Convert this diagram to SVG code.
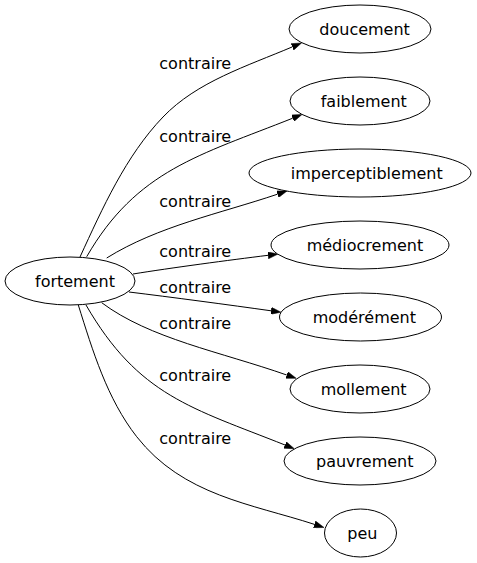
<svg xmlns="http://www.w3.org/2000/svg" width="477" height="563" viewBox="0 0 477 563">
<defs>
<style>
.node ellipse{fill:#fff;stroke:#000;stroke-width:1}
.node text{font-family:"DejaVu Sans",sans-serif;font-size:16px;fill:#000}
.edge path{fill:none;stroke:#000;stroke-width:1}
.lbl{font-family:"DejaVu Sans",sans-serif;font-size:16px;fill:#000}
</style>
<marker id="arr" viewBox="0 0 10 7" refX="0" refY="3.5" markerWidth="10" markerHeight="7" markerUnits="userSpaceOnUse" orient="auto">
<path d="M0,0 L10,3.5 L0,7 z" fill="#000" stroke="#000" stroke-width="0.5"/>
</marker>
</defs>
<rect width="477" height="563" fill="#fff"/>
<g id="edges">
<g class="edge"><path marker-end="url(#arr)" d="M80,257 C102.6,208 125.7,155.9 163,117 C196.8,81.7 247.3,66 292.3,46.9"/></g>
<g class="edge"><path marker-end="url(#arr)" d="M86.7,256.7 C136.7,170.1 199.7,155.2 292.7,118.2"/></g>
<g class="edge"><path marker-end="url(#arr)" d="M106.7,258 C157.7,226.2 220.5,213.4 277.5,194.2"/></g>
<g class="edge"><path marker-end="url(#arr)" d="M133,274 C170,268 230,260 268.1,255.3"/></g>
<g class="edge"><path marker-end="url(#arr)" d="M129,292 C170,297 230,305 271.1,310.8"/></g>
<g class="edge"><path marker-end="url(#arr)" d="M101.7,302.7 C149.7,338.7 220.9,351.9 286.7,375"/></g>
<g class="edge"><path marker-end="url(#arr)" d="M86,305 C138.5,395.9 192,408 285,445"/></g>
<g class="edge"><path marker-end="url(#arr)" d="M78.3,305 C92.7,350.8 107.1,398.9 136.7,436.7 C183,495.7 251.8,503.9 314.5,524.4"/></g>
<text class="lbl" x="159.3" y="69">contraire</text>
<text class="lbl" x="159.3" y="142">contraire</text>
<text class="lbl" x="159.3" y="207">contraire</text>
<text class="lbl" x="159.3" y="257">contraire</text>
<text class="lbl" x="159.3" y="293">contraire</text>
<text class="lbl" x="159.3" y="329">contraire</text>
<text class="lbl" x="159.3" y="381">contraire</text>
<text class="lbl" x="159.3" y="444">contraire</text>
</g>
<g id="fortement" class="node"><ellipse cx="70" cy="281" rx="65" ry="24"/><text x="35" y="286.5">fortement</text></g>
<g id="doucement" class="node"><ellipse cx="360" cy="29" rx="71" ry="24"/><text x="319.3" y="34.5">doucement</text></g>
<g id="faiblement" class="node"><ellipse cx="360" cy="101" rx="70" ry="24"/><text x="320.7" y="106.5">faiblement</text></g>
<g id="imperceptiblement" class="node"><ellipse cx="360" cy="173" rx="111" ry="24"/><text x="290.7" y="178.5">imperceptiblement</text></g>
<g id="mediocrement" class="node"><ellipse cx="360" cy="245" rx="89" ry="24"/><text x="306.7" y="250.5">médiocrement</text></g>
<g id="moderement" class="node"><ellipse cx="360.5" cy="317" rx="81" ry="24"/><text x="312.7" y="322.5">modérément</text></g>
<g id="mollement" class="node"><ellipse cx="360" cy="389" rx="70" ry="24"/><text x="320.7" y="394.5">mollement</text></g>
<g id="pauvrement" class="node"><ellipse cx="360" cy="461" rx="76" ry="24"/><text x="316" y="466.5">pauvrement</text></g>
<g id="peu" class="node"><ellipse cx="360.5" cy="533" rx="36" ry="24"/><text x="347.3" y="538.5">peu</text></g>
</svg>
